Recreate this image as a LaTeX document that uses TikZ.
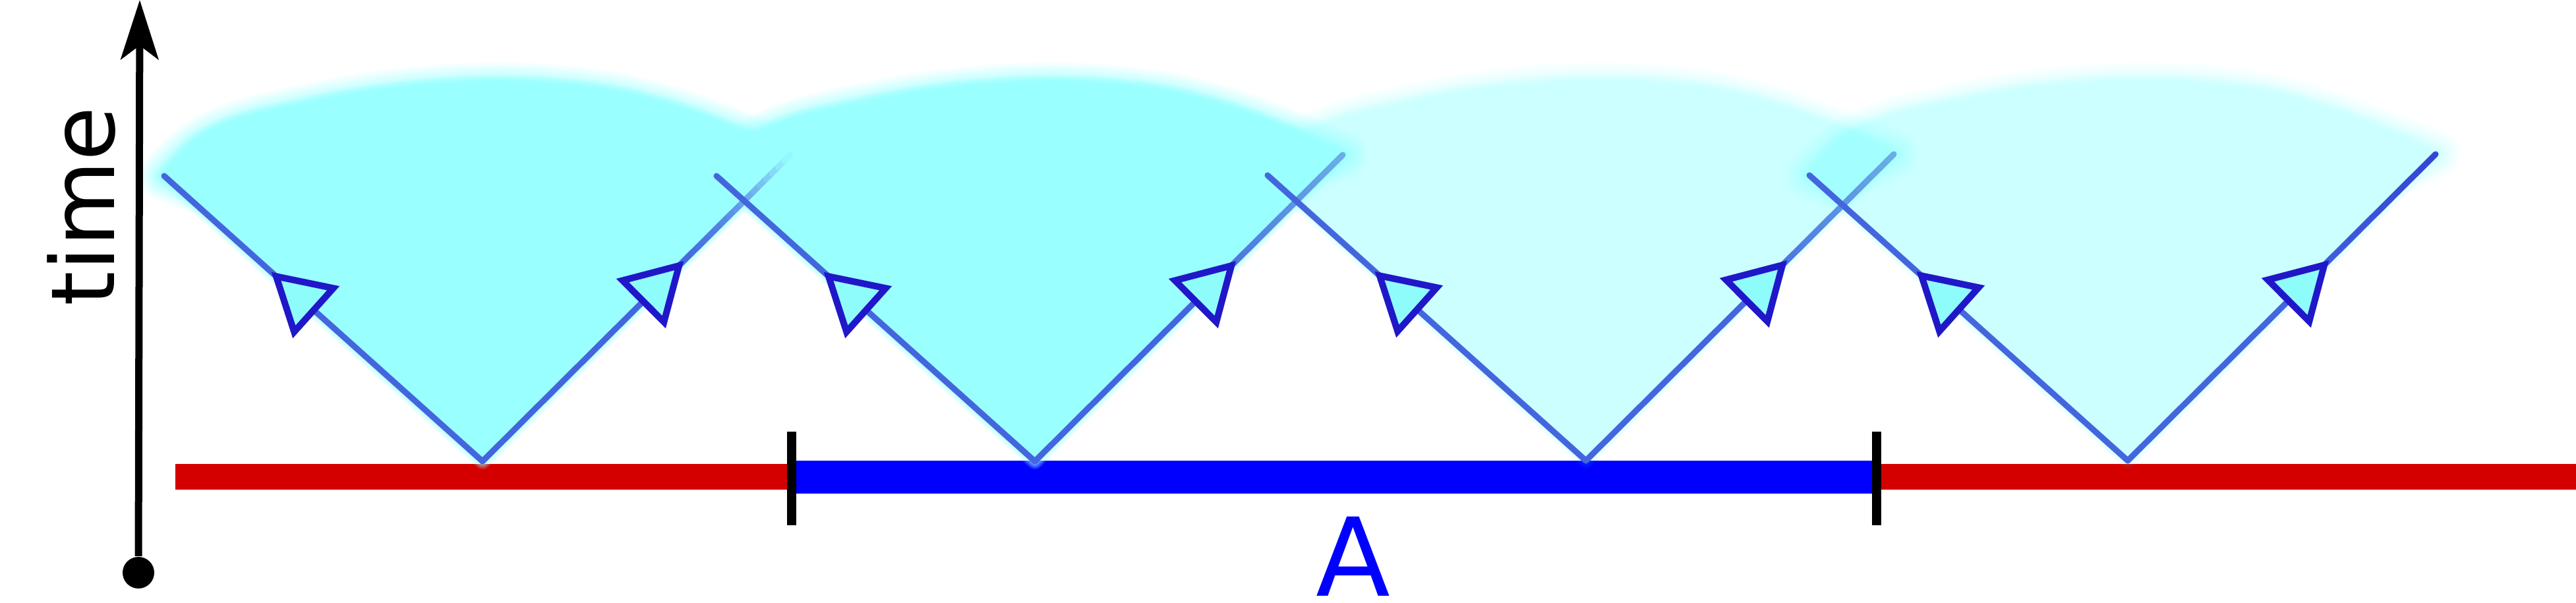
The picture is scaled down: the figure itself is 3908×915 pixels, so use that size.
\documentclass[tikz,border=0pt]{standalone}
\usepackage{fontspec}
\setmainfont{DejaVu Sans}
\usetikzlibrary{calc,arrows.meta}
\definecolor{armblue}{RGB}{68,102,221}
\definecolor{armlight}{RGB}{106,174,232}
\definecolor{armdark}{RGB}{52,70,212}
\definecolor{triblue}{RGB}{32,24,200}
\definecolor{trifill}{RGB}{143,252,252}
\definecolor{barred}{RGB}{212,0,0}
\definecolor{barblue}{RGB}{0,0,255}
\definecolor{bgcyan}{RGB}{153,255,255}
\definecolor{conecyan}{RGB}{0,255,255}
\tikzset{
  arm/.style={draw=armblue, line width=1.8pt, line cap=round},
  arrowtri/.style={draw=triblue, fill=trifill, line width=2pt, line join=miter},
  tickmark/.style={draw=black, line width=2.8pt},
  timeaxis/.style={draw=black, line width=2.2pt, -{Stealth[length=18pt, width=11.4pt, inset=4.2pt]}},
}
% cone shapes, relative to the bottom vertex
\def\vpath{plot[smooth, tension=0.6] coordinates {(-483,-433) (-440,-482) (-380,-514) (-295,-536) (-150,-563) (20,-575) (170,-565) (275,-542) (380,-505) (467,-465)} -- (0,0) -- cycle}
\def\dpath{plot[smooth, tension=0.6] coordinates {(-483,-433) (-436,-478) (-376,-508) (-292,-530) (-150,-556) (20,-568) (170,-558) (272,-536) (376,-500) (467,-465)} -- (0,-250) -- cycle}
\newcommand\blurfill[3]{%
  \foreach \j in {1,...,10}{%
    \pgfmathsetmacro\op{1/(11-\j)}%
    \pgfmathsetmacro\lw{#1*(10-\j)/9}%
    \path[fill=#3, draw=#3, opacity=\op, line width=\lw pt, line join=round] #2;
  }%
}
\newcommand\conefill[2]{%
  \begin{scope}[shift={(#1)}]
    \blurfill{5}{\vpath}{#2}
    \blurfill{15}{\dpath}{#2}
  \end{scope}%
}
% right arm with a colour gradient in its upper part
\newcommand\rarm[5]{%
  \draw[arm] (#1) -- ($(#1)!#3!(#2)$);
  \foreach \i in {0,...,19}{%
    \pgfmathsetmacro\ta{#3+(1-#3)*\i/20}%
    \pgfmathsetmacro\tb{#3+(1-#3)*(\i+1)/20}%
    \pgfmathsetmacro\pc{100*((\i+0.5)/20)^#5}%
    \draw[arm, draw={#4!\pc!armblue}] ($(#1)!\ta!(#2)$) -- ($(#1)!\tb!(#2)$);
  }%
}
\newcommand\mytri[2]{%
  \coordinate (tc) at ($(#1)!17.5pt!(#2)$);
  \draw[arrowtri] ($(#1)!2.2pt!(#2)$) -- ($(tc)!8.9pt!90:(#2)$) -- ($(tc)!8.9pt!-90:(#2)$) -- cycle;
}
\begin{document}
\begin{tikzpicture}[x=0.2pt, y=-0.2pt]
\fill[white] (0,0) rectangle (3908,915);
\useasboundingbox (0,0) rectangle (3908,915);
% vertices
\coordinate (B1) at (732,700);
\coordinate (B2) at (1570,700);
\coordinate (B3) at (2406,699);
\coordinate (B4) at (3228,699);
\foreach \k in {1,...,4}{
  \coordinate (L\k) at ($(B\k)+(-483,-433)$);
  \coordinate (R\k) at ($(B\k)+(467,-465)$);
  \coordinate (TL\k) at ($(L\k)!0.335!(B\k)$);
  \coordinate (TR\k) at ($(B\k)!0.655!(R\k)$);
}
% bars
\coordinate (redL) at (266,724);
\coordinate (k1) at (1201,724);
\coordinate (k2) at (2847,724);
\coordinate (redR) at (3908,724);
\draw[barred, line width=7.8pt] (redL) -- (k1);
\draw[barred, line width=7.8pt] (k2) -- (redR);
\draw[barblue, line width=10pt] (k1) -- (k2);
% cones
\begin{scope}[transparency group, opacity=0.2]
  \conefill{B3}{conecyan}
\end{scope}
\begin{scope}[transparency group, opacity=0.2]
  \conefill{B4}{conecyan}
\end{scope}
\begin{scope}[transparency group]
  \conefill{B1}{bgcyan}
  \conefill{B2}{bgcyan}
\end{scope}
% ticks
\draw[tickmark] ($(k1)+(0,-69)$) -- ($(k1)+(0,73)$);
\draw[tickmark] ($(k2)+(0,-69)$) -- ($(k2)+(0,73)$);
% right arms
\rarm{B1}{R1}{0.6}{bgcyan}{2}
\rarm{B2}{R2}{0.55}{armlight}{1}
\rarm{B3}{R3}{0.55}{armlight}{1}
\rarm{B4}{R4}{0.5}{armdark}{1}
% left arms
\foreach \k in {1,...,4}{
  \draw[arm] (L\k) -- (B\k);
}
% arrow heads
\foreach \k in {1,...,4}{
  \mytri{TL\k}{B\k}
  \mytri{TR\k}{B\k}
}
% time axis
\node[circle, fill=black, inner sep=0pt, minimum size=9.6pt] (dot) at (210,869) {};
\coordinate (ttop) at (212,0);
\draw[timeaxis] (dot) -- (ttop);
\node[rotate=90, anchor=base, inner sep=0pt, font=\fontsize{26.8pt}{26.8pt}\selectfont] (tlabel) at (173,313) {time};
\node[anchor=base, text=barblue, inner sep=0pt, font=\fontsize{33pt}{33pt}\selectfont] (alabel) at (2053,905) {A};
\end{tikzpicture}
\end{document}
